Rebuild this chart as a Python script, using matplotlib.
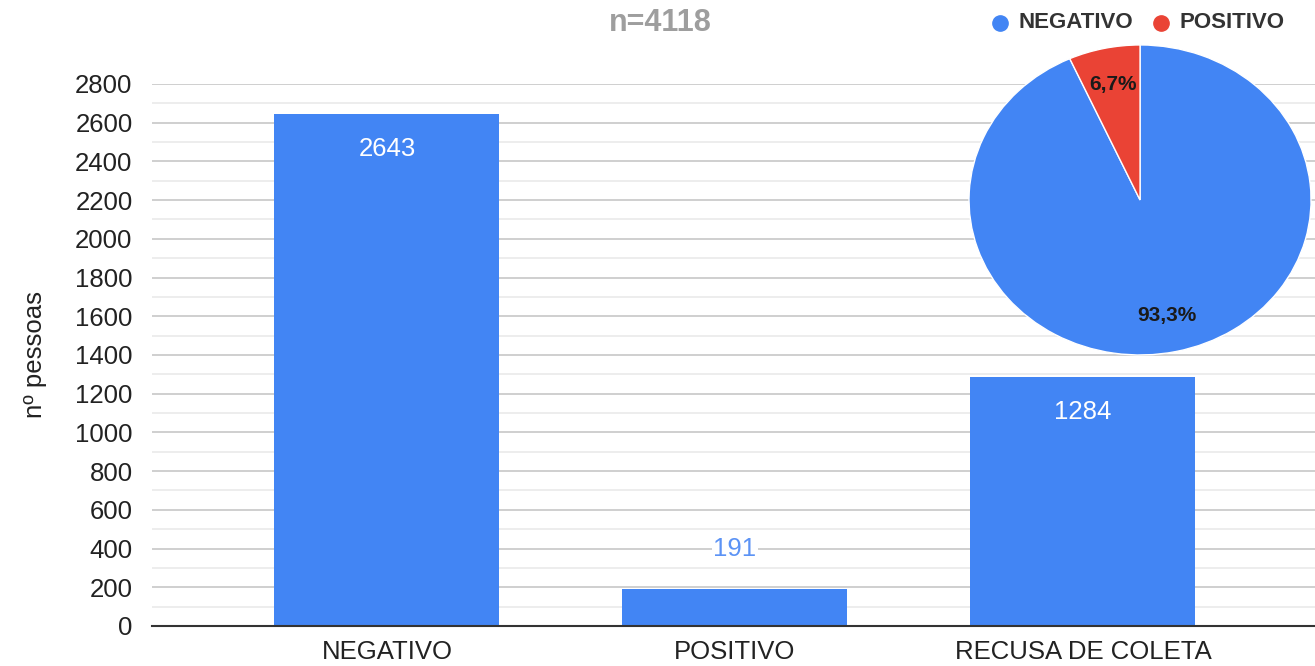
import matplotlib.pyplot as plt
from matplotlib.ticker import MultipleLocator

plt.rcParams['font.family'] = ['Liberation Sans', 'DejaVu Sans']

categorias = ["NEGATIVO", "POSITIVO", "RECUSA DE COLETA"]
pessoas = [2643, 191, 1284]
pie_labels = ["NEGATIVO", "POSITIVO"]
pie_values = [2643, 191]
total = 4118

azul = "#4285F4"
vermelho = "#EA4335"

fig = plt.figure(figsize=(13.15, 6.66), dpi=100)

# barras
ax = fig.add_axes([0.1156, 0.0601, 0.8844, 0.8138])
x = list(range(len(categorias)))
bars = ax.bar(x, pessoas, width=0.647, color=azul, zorder=3)
ax.set_xlim(-0.675, 2.667)
ax.set_ylim(0, 2800)
ax.yaxis.set_major_locator(MultipleLocator(200))
ax.yaxis.set_minor_locator(MultipleLocator(100))
ax.grid(axis='y', which='major', color='#cccccc', linewidth=1.3, zorder=0)
ax.grid(axis='y', which='minor', color='#e8e8e8', linewidth=1.1, zorder=0)
ax.set_xticks(x)
ax.set_xticklabels(categorias)
ax.tick_params(axis='both', which='both', length=0, labelsize=18.5, colors='#222222')
ax.tick_params(axis='x', pad=10)
ax.tick_params(axis='y', pad=14)
for s in ['top', 'right', 'left']:
    ax.spines[s].set_visible(False)
ax.spines['bottom'].set_color('#333333')
ax.spines['bottom'].set_linewidth(1.5)
ax.spines['bottom'].set_zorder(4)
ax.set_ylabel("nº pessoas", fontsize=18.5, color='#222222', labelpad=20)

for b, v in zip(bars, pessoas):
    cx = b.get_x() + b.get_width() / 2
    if v > 500:
        ax.annotate(str(v), (cx, v), xytext=(0, -16), textcoords='offset points',
                    ha='center', va='top', fontsize=18.5, color='white', zorder=5)
    else:
        ax.annotate(str(v), (cx, v), xytext=(0, 20), textcoords='offset points',
                    ha='center', va='bottom', fontsize=18.5, color='#5c93f5', zorder=5,
                    bbox=dict(facecolor='white', edgecolor='none', pad=1))

fig.text(0.502, 0.966, "n=%d" % total, ha='center', va='center', fontsize=22,
         fontweight='bold', color='#9e9e9e')

# pizza
pax = fig.add_axes([0.7369, 0.467, 0.2601, 0.4655])
wedges, _, autotexts = pax.pie(pie_values, colors=[azul, vermelho], startangle=90,
                               counterclock=False, autopct=lambda p: ("%.1f%%" % p).replace('.', ','),
                               pctdistance=0.76, wedgeprops=dict(edgecolor='white', linewidth=1))
for t in autotexts:
    t.set_fontsize(15)
    t.set_fontweight('bold')
    t.set_color('#1a1a1a')
pax.set_aspect('auto')
pax.set_xlim(-1, 1)
pax.set_ylim(-1, 1)

leg = fig.legend(wedges, pie_labels, loc='center', bbox_to_anchor=(0.8645, 0.966), ncol=2,
                 frameon=False, handlelength=0.8, handletextpad=0.5, columnspacing=0.8,
                 prop=dict(size=16, weight='bold'))
for h in leg.legend_handles:
    h.set_visible(False)
for txt in leg.get_texts():
    txt.set_color('#333333')
fig.canvas.draw()
for txt, c in zip(leg.get_texts(), [azul, vermelho]):
    bb = txt.get_window_extent().transformed(fig.transFigure.inverted())
    fig.add_artist(plt.Line2D([bb.x0 - 0.014], [(bb.y0 + bb.y1) / 2], marker='o',
                              markersize=11, color=c, transform=fig.transFigure))

fig.savefig("out.png", dpi=100)
